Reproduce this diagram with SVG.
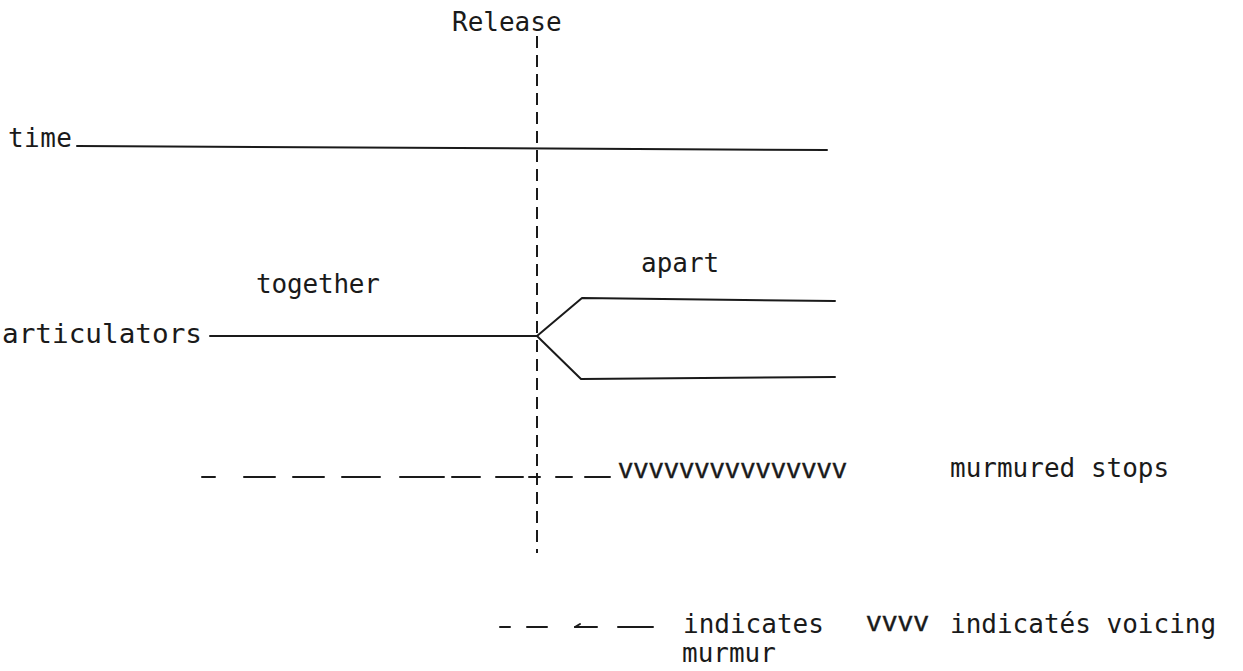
<svg xmlns="http://www.w3.org/2000/svg" width="1243" height="671" viewBox="0 0 1243 671">
<style>
.t{font-family:"DejaVu Sans Mono","Liberation Mono",monospace;font-size:26px;fill:#1a1a1a}
.v{font-family:"Liberation Mono","DejaVu Sans Mono",monospace;font-size:27px;fill:#1a1a1a;stroke:#1a1a1a;stroke-width:0.4}
.ln{stroke:#1a1a1a;stroke-width:2;fill:none;stroke-linecap:round;stroke-linejoin:round}
.dash{stroke:#1a1a1a;stroke-width:2;fill:none;stroke-dasharray:12 7}
</style>
<rect width="1243" height="671" fill="#fff"/>
<g id="release">
<text class="t" x="452" y="31">Release</text>
</g>
<g id="time">
<text class="t" x="8" y="147" textLength="64">time</text>
</g>
<g id="articulators">
<text class="t" x="2" y="343" textLength="200" lengthAdjust="spacingAndGlyphs">articulators</text>
</g>
<g id="together">
<text class="t" x="256" y="293" textLength="124">together</text>
</g>
<g id="apart">
<text class="t" x="641" y="272">apart</text>
</g>
<g id="murmured-stops">
<text class="t" x="950" y="477">murmured stops</text>
<text class="v" x="618" y="478" textLength="229" lengthAdjust="spacingAndGlyphs">vvvvvvvvvvvvvvv</text>
</g>
<g id="legend">
<text class="t" x="683" y="633">indicates</text>
<text class="v" x="866" y="631" textLength="63" lengthAdjust="spacingAndGlyphs">vvvv</text>
<text class="t" x="950" y="633">indicatés voicing</text>
<text class="t" x="682" y="662">murmur</text>
</g>
<g id="connectors">
<line class="dash" x1="537" y1="36" x2="537" y2="553"/>
<path class="ln" d="M77 146 L827 150"/>
<path class="ln" d="M210 336 L537 336"/>
<path class="ln" d="M537 336 L582 298 L835 301"/>
<path class="ln" d="M537 336 L581 379 L835 377"/>
<path class="ln" d="M202 477 H215 M244 477 H275 M293 477 H324 M342 477 H380 M400 477 H444 M452 477 H480 M496 477 H523 M529 477 H540 M556 477 H572 M585 477 H610"/>
<path class="ln" d="M500 627 H510 M527 627 H547 M575 627 H597 M618 627 H653"/>
<path class="ln" d="M575 627 L580 624"/>
</g>
</svg>
